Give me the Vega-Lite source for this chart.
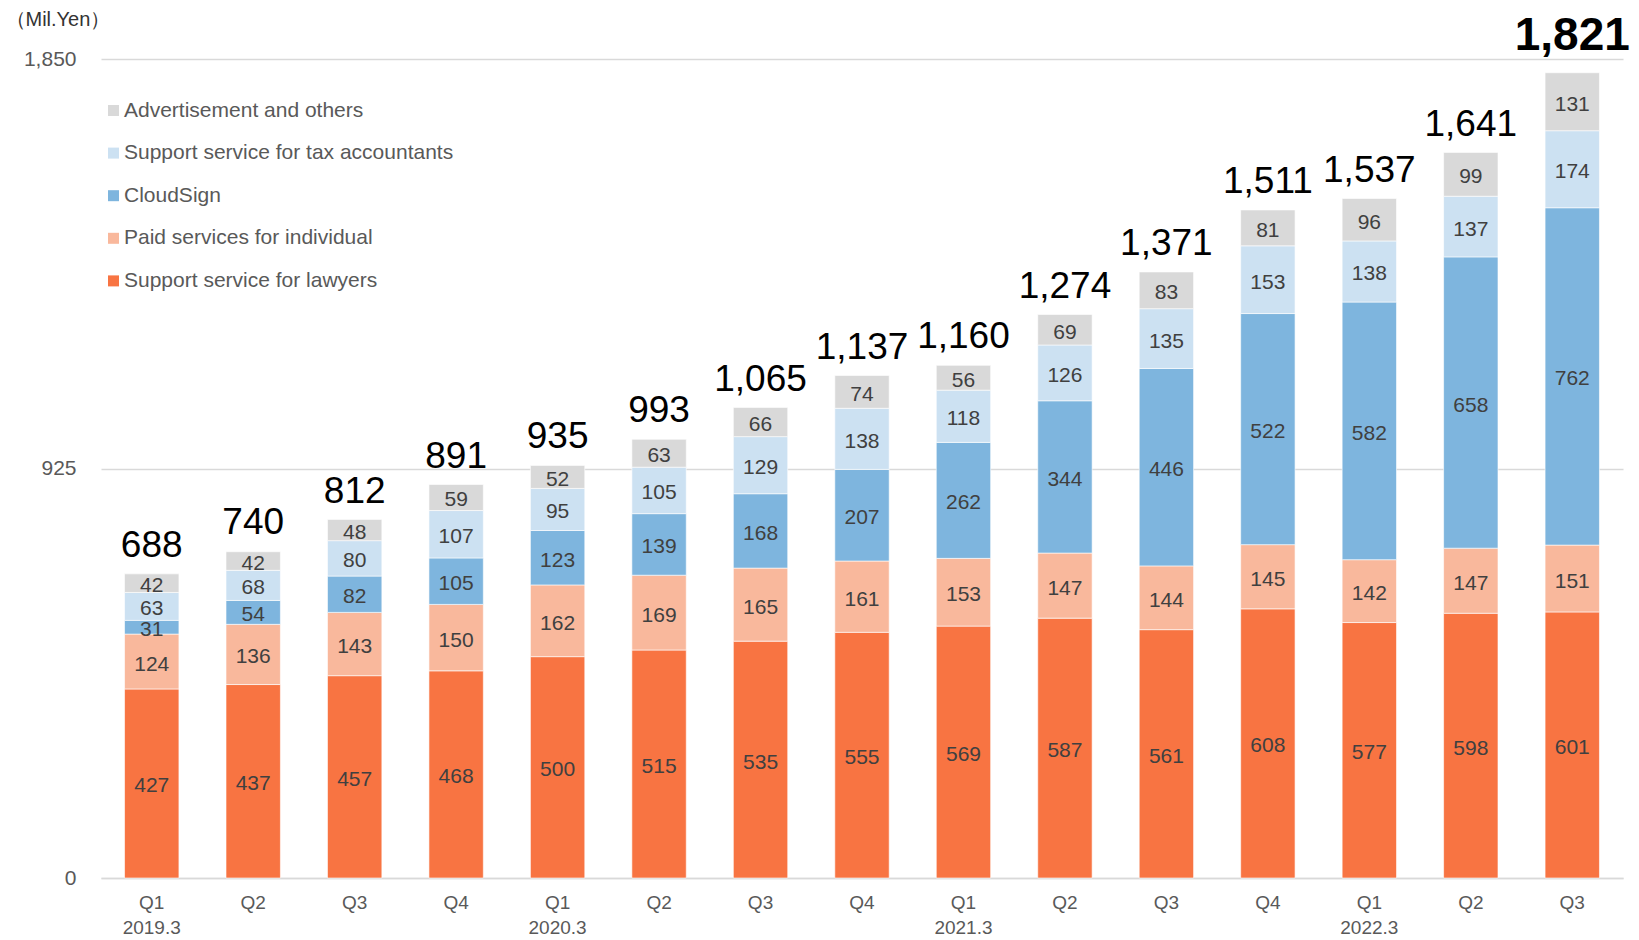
{
  "$schema": "https://vega.github.io/schema/vega-lite/v6.json",
  "width": 1522,
  "height": 819,
  "autosize": {"type": "none"},
  "padding": {"left": 101, "top": 59, "right": 16, "bottom": 62},
  "background": "white",
  "config": {"font": "Liberation Sans", "view": {"stroke": null}},
  "datasets": {
    "seg": [
      {"q": "Q1|2019.3", "segment": "Support service for lawyers", "v": 427},
      {"q": "Q1|2019.3", "segment": "Paid services for individual", "v": 124},
      {"q": "Q1|2019.3", "segment": "CloudSign", "v": 31},
      {"q": "Q1|2019.3", "segment": "Support service for tax accountants", "v": 63},
      {"q": "Q1|2019.3", "segment": "Advertisement and others", "v": 42},
      {"q": "Q2|2019.3", "segment": "Support service for lawyers", "v": 437},
      {"q": "Q2|2019.3", "segment": "Paid services for individual", "v": 136},
      {"q": "Q2|2019.3", "segment": "CloudSign", "v": 54},
      {"q": "Q2|2019.3", "segment": "Support service for tax accountants", "v": 68},
      {"q": "Q2|2019.3", "segment": "Advertisement and others", "v": 42},
      {"q": "Q3|2019.3", "segment": "Support service for lawyers", "v": 457},
      {"q": "Q3|2019.3", "segment": "Paid services for individual", "v": 143},
      {"q": "Q3|2019.3", "segment": "CloudSign", "v": 82},
      {"q": "Q3|2019.3", "segment": "Support service for tax accountants", "v": 80},
      {"q": "Q3|2019.3", "segment": "Advertisement and others", "v": 48},
      {"q": "Q4|2019.3", "segment": "Support service for lawyers", "v": 468},
      {"q": "Q4|2019.3", "segment": "Paid services for individual", "v": 150},
      {"q": "Q4|2019.3", "segment": "CloudSign", "v": 105},
      {"q": "Q4|2019.3", "segment": "Support service for tax accountants", "v": 107},
      {"q": "Q4|2019.3", "segment": "Advertisement and others", "v": 59},
      {"q": "Q1|2020.3", "segment": "Support service for lawyers", "v": 500},
      {"q": "Q1|2020.3", "segment": "Paid services for individual", "v": 162},
      {"q": "Q1|2020.3", "segment": "CloudSign", "v": 123},
      {"q": "Q1|2020.3", "segment": "Support service for tax accountants", "v": 95},
      {"q": "Q1|2020.3", "segment": "Advertisement and others", "v": 52},
      {"q": "Q2|2020.3", "segment": "Support service for lawyers", "v": 515},
      {"q": "Q2|2020.3", "segment": "Paid services for individual", "v": 169},
      {"q": "Q2|2020.3", "segment": "CloudSign", "v": 139},
      {"q": "Q2|2020.3", "segment": "Support service for tax accountants", "v": 105},
      {"q": "Q2|2020.3", "segment": "Advertisement and others", "v": 63},
      {"q": "Q3|2020.3", "segment": "Support service for lawyers", "v": 535},
      {"q": "Q3|2020.3", "segment": "Paid services for individual", "v": 165},
      {"q": "Q3|2020.3", "segment": "CloudSign", "v": 168},
      {"q": "Q3|2020.3", "segment": "Support service for tax accountants", "v": 129},
      {"q": "Q3|2020.3", "segment": "Advertisement and others", "v": 66},
      {"q": "Q4|2020.3", "segment": "Support service for lawyers", "v": 555},
      {"q": "Q4|2020.3", "segment": "Paid services for individual", "v": 161},
      {"q": "Q4|2020.3", "segment": "CloudSign", "v": 207},
      {"q": "Q4|2020.3", "segment": "Support service for tax accountants", "v": 138},
      {"q": "Q4|2020.3", "segment": "Advertisement and others", "v": 74},
      {"q": "Q1|2021.3", "segment": "Support service for lawyers", "v": 569},
      {"q": "Q1|2021.3", "segment": "Paid services for individual", "v": 153},
      {"q": "Q1|2021.3", "segment": "CloudSign", "v": 262},
      {"q": "Q1|2021.3", "segment": "Support service for tax accountants", "v": 118},
      {"q": "Q1|2021.3", "segment": "Advertisement and others", "v": 56},
      {"q": "Q2|2021.3", "segment": "Support service for lawyers", "v": 587},
      {"q": "Q2|2021.3", "segment": "Paid services for individual", "v": 147},
      {"q": "Q2|2021.3", "segment": "CloudSign", "v": 344},
      {"q": "Q2|2021.3", "segment": "Support service for tax accountants", "v": 126},
      {"q": "Q2|2021.3", "segment": "Advertisement and others", "v": 69},
      {"q": "Q3|2021.3", "segment": "Support service for lawyers", "v": 561},
      {"q": "Q3|2021.3", "segment": "Paid services for individual", "v": 144},
      {"q": "Q3|2021.3", "segment": "CloudSign", "v": 446},
      {"q": "Q3|2021.3", "segment": "Support service for tax accountants", "v": 135},
      {"q": "Q3|2021.3", "segment": "Advertisement and others", "v": 83},
      {"q": "Q4|2021.3", "segment": "Support service for lawyers", "v": 608},
      {"q": "Q4|2021.3", "segment": "Paid services for individual", "v": 145},
      {"q": "Q4|2021.3", "segment": "CloudSign", "v": 522},
      {"q": "Q4|2021.3", "segment": "Support service for tax accountants", "v": 153},
      {"q": "Q4|2021.3", "segment": "Advertisement and others", "v": 81},
      {"q": "Q1|2022.3", "segment": "Support service for lawyers", "v": 577},
      {"q": "Q1|2022.3", "segment": "Paid services for individual", "v": 142},
      {"q": "Q1|2022.3", "segment": "CloudSign", "v": 582},
      {"q": "Q1|2022.3", "segment": "Support service for tax accountants", "v": 138},
      {"q": "Q1|2022.3", "segment": "Advertisement and others", "v": 96},
      {"q": "Q2|2022.3", "segment": "Support service for lawyers", "v": 598},
      {"q": "Q2|2022.3", "segment": "Paid services for individual", "v": 147},
      {"q": "Q2|2022.3", "segment": "CloudSign", "v": 658},
      {"q": "Q2|2022.3", "segment": "Support service for tax accountants", "v": 137},
      {"q": "Q2|2022.3", "segment": "Advertisement and others", "v": 99},
      {"q": "Q3|2022.3", "segment": "Support service for lawyers", "v": 601},
      {"q": "Q3|2022.3", "segment": "Paid services for individual", "v": 151},
      {"q": "Q3|2022.3", "segment": "CloudSign", "v": 762},
      {"q": "Q3|2022.3", "segment": "Support service for tax accountants", "v": 174},
      {"q": "Q3|2022.3", "segment": "Advertisement and others", "v": 131}
    ],
    "tot": [
      {"q": "Q1|2019.3", "total": 688},
      {"q": "Q2|2019.3", "total": 740},
      {"q": "Q3|2019.3", "total": 812},
      {"q": "Q4|2019.3", "total": 891},
      {"q": "Q1|2020.3", "total": 935},
      {"q": "Q2|2020.3", "total": 993},
      {"q": "Q3|2020.3", "total": 1065},
      {"q": "Q4|2020.3", "total": 1137},
      {"q": "Q1|2021.3", "total": 1160},
      {"q": "Q2|2021.3", "total": 1274},
      {"q": "Q3|2021.3", "total": 1371},
      {"q": "Q4|2021.3", "total": 1511},
      {"q": "Q1|2022.3", "total": 1537},
      {"q": "Q2|2022.3", "total": 1641},
      {"q": "Q3|2022.3", "total": 1821}
    ]
  },
  "encoding": {
    "x": {
      "field": "q", "type": "ordinal",
      "sort": ["Q1|2019.3","Q2|2019.3","Q3|2019.3","Q4|2019.3","Q1|2020.3","Q2|2020.3","Q3|2020.3","Q4|2020.3","Q1|2021.3","Q2|2021.3","Q3|2021.3","Q4|2021.3","Q1|2022.3","Q2|2022.3","Q3|2022.3"],
      "scale": {"paddingInner": 0.464, "paddingOuter": 0.232},
      "axis": {
        "title": null,
        "labelAngle": 0,
        "labelExpr": "indexof(datum.value, 'Q1') == 0 ? split(datum.value, '|') : split(datum.value, '|')[0]",
        "labelFontSize": 19,
        "labelColor": "#595959",
        "labelPadding": 15,
        "labelLineHeight": 25,
        "labelBaseline": "top",
        "ticks": false,
        "domainColor": "#D9D9D9",
        "domainWidth": 1.5
      }
    }
  },
  "layer": [
    {
      "data": {"name": "seg"},
      "transform": [
        {"calculate": "indexof(['Support service for lawyers','Paid services for individual','CloudSign','Support service for tax accountants','Advertisement and others'], datum.segment)", "as": "ord"},
        {"stack": "v", "groupby": ["q"], "sort": [{"field": "ord", "order": "ascending"}], "as": ["v0", "v1"]}
      ],
      "mark": {"type": "bar", "stroke": "#FFFFFF", "strokeWidth": 1, "strokeOpacity": 0.6},
      "encoding": {
        "y": {
          "field": "v1", "type": "quantitative",
          "scale": {"domain": [0, 1850], "nice": false},
          "title": "（Mil.Yen）",
          "axis": {
            "values": [0, 925, 1850],
            "labelExpr": "format(datum.value, ',')",
            "grid": true,
            "gridColor": "#D9D9D9",
            "gridWidth": 1.5,
            "domain": false,
            "ticks": false,
            "labelFontSize": 21,
            "labelColor": "#595959",
            "labelPadding": 25,
            "titleAngle": 0,
            "titleAlign": "left",
            "titleBaseline": "middle",
            "titleX": -96,
            "titleY": -40,
            "titleFontSize": 20,
            "titleFontWeight": "normal",
            "titleColor": "#333333"
          }
        },
        "y2": {"field": "v0"},
        "color": {
          "field": "segment", "type": "nominal",
          "scale": {
            "domain": ["Advertisement and others", "Support service for tax accountants", "CloudSign", "Paid services for individual", "Support service for lawyers"],
            "range": ["#D9D9D9", "#CCE1F2", "#7EB5DE", "#F9B89C", "#F87442"]
          },
          "legend": {
            "title": null,
            "orient": "none",
            "legendX": 2,
            "legendY": 41,
            "padding": 0,
            "symbolType": "square",
            "symbolSize": 121,
            "symbolStrokeWidth": 0,
            "labelFontSize": 21,
            "labelColor": "#595959",
            "labelOffset": 0,
            "labelLimit": 0,
            "rowPadding": 20.6
          }
        }
      }
    },
    {
      "data": {"name": "seg"},
      "transform": [
        {"calculate": "indexof(['Support service for lawyers','Paid services for individual','CloudSign','Support service for tax accountants','Advertisement and others'], datum.segment)", "as": "ord"},
        {"stack": "v", "groupby": ["q"], "sort": [{"field": "ord", "order": "ascending"}], "as": ["v0", "v1"]},
        {"calculate": "(datum.v0 + datum.v1) / 2", "as": "mid"}
      ],
      "mark": {"type": "text", "fontSize": 21, "color": "#404040", "baseline": "middle", "dy": 3},
      "encoding": {
        "y": {
          "field": "mid", "type": "quantitative",
          "scale": {"domain": [0, 1850], "nice": false},
          "title": "（Mil.Yen）",
          "axis": {
            "values": [0, 925, 1850],
            "labelExpr": "format(datum.value, ',')",
            "grid": true,
            "gridColor": "#D9D9D9",
            "gridWidth": 1.5,
            "domain": false,
            "ticks": false,
            "labelFontSize": 21,
            "labelColor": "#595959",
            "labelPadding": 25,
            "titleAngle": 0,
            "titleAlign": "left",
            "titleBaseline": "middle",
            "titleX": -96,
            "titleY": -40,
            "titleFontSize": 20,
            "titleFontWeight": "normal",
            "titleColor": "#333333"
          }
        },
        "text": {"field": "v", "type": "quantitative"}
      }
    },
    {
      "data": {"name": "tot"},
      "transform": [{"filter": "datum.q != 'Q3|2022.3'"}],
      "mark": {"type": "text", "fontSize": 37, "color": "#000000", "baseline": "alphabetic", "dy": -16},
      "encoding": {
        "y": {
          "field": "total", "type": "quantitative",
          "scale": {"domain": [0, 1850], "nice": false},
          "title": "（Mil.Yen）",
          "axis": {
            "values": [0, 925, 1850],
            "labelExpr": "format(datum.value, ',')",
            "grid": true,
            "gridColor": "#D9D9D9",
            "gridWidth": 1.5,
            "domain": false,
            "ticks": false,
            "labelFontSize": 21,
            "labelColor": "#595959",
            "labelPadding": 25,
            "titleAngle": 0,
            "titleAlign": "left",
            "titleBaseline": "middle",
            "titleX": -96,
            "titleY": -40,
            "titleFontSize": 20,
            "titleFontWeight": "normal",
            "titleColor": "#333333"
          }
        },
        "text": {"field": "total", "type": "quantitative", "format": ","}
      }
    },
    {
      "data": {"name": "tot"},
      "transform": [{"filter": "datum.q == 'Q3|2022.3'"}],
      "mark": {"type": "text", "fontSize": 46, "fontWeight": "bold", "color": "#000000", "baseline": "alphabetic", "dy": -22},
      "encoding": {
        "y": {
          "field": "total", "type": "quantitative",
          "scale": {"domain": [0, 1850], "nice": false},
          "title": "（Mil.Yen）",
          "axis": {
            "values": [0, 925, 1850],
            "labelExpr": "format(datum.value, ',')",
            "grid": true,
            "gridColor": "#D9D9D9",
            "gridWidth": 1.5,
            "domain": false,
            "ticks": false,
            "labelFontSize": 21,
            "labelColor": "#595959",
            "labelPadding": 25,
            "titleAngle": 0,
            "titleAlign": "left",
            "titleBaseline": "middle",
            "titleX": -96,
            "titleY": -40,
            "titleFontSize": 20,
            "titleFontWeight": "normal",
            "titleColor": "#333333"
          }
        },
        "text": {"field": "total", "type": "quantitative", "format": ","}
      }
    }
  ]
}
